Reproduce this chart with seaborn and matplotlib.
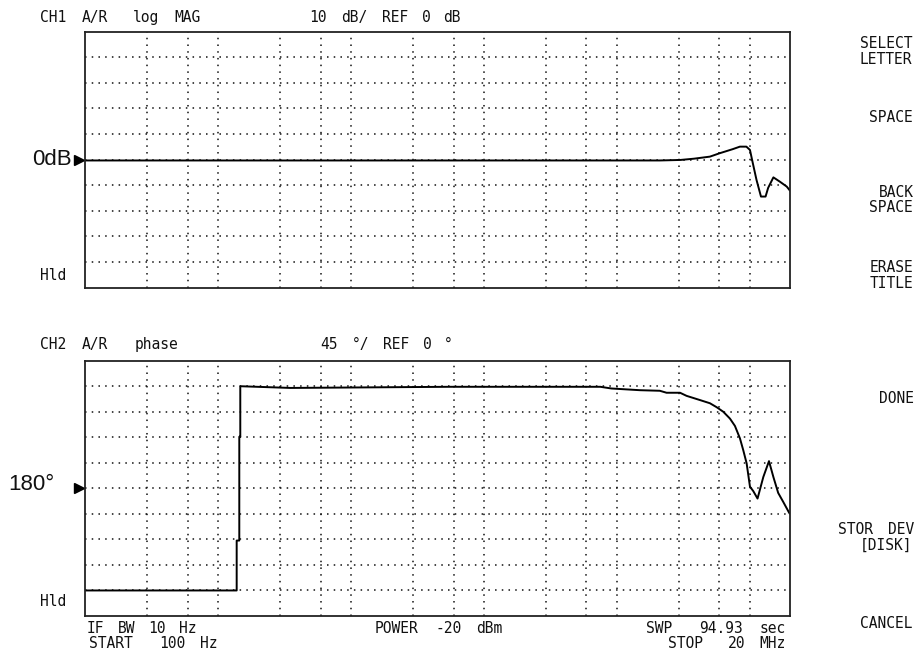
# Network analyzer screen: CH1 log MAG and CH2 phase

import seaborn as sns
import matplotlib.pyplot as plt
from matplotlib.transforms import blended_transform_factory

# CH1 A/R log MAG, dB vs Hz
mag_freq = [100, 2.1e6, 3.0e6, 3.8e6, 5.0e6, 5.9e6, 7.4e6, 8.4e6, 9.4e6, 10.0e6,
            10.5e6, 11.2e6, 12.1e6, 13.1e6, 13.7e6, 15.0e6, 16.8e6, 18.9e6, 20e6]
mag_db = [-0.3, -0.3, -0.1, 0.4, 1.2, 2.5, 4.1, 5.1, 5.1, 3.8,
          -1.3, -7.9, -14.4, -14.4, -11.0, -6.9, -8.6, -10.5, -12.1]

# CH2 A/R phase, degrees vs Hz
phase_freq = [100, 1382, 1382, 1446, 1446, 1471, 1471, 3.5e3, 5.5e4, 7.5e5,
              9.1e5, 1.49e6, 2.1e6, 2.36e6, 2.98e6, 3.34e6, 4.21e6, 5.0e6, 5.62e6,
              6.3e6, 7.07e6, 7.71e6, 8.41e6, 8.91e6, 9.44e6, 10.0e6, 10.6e6, 11.4e6,
              12.6e6, 13.9e6, 15.0e6, 16.3e6, 17.8e6, 19.7e6, 20e6]
phase_deg = [0, 0, 88, 88, 271, 271, 360, 357, 359, 359,
             356, 353, 352, 348.5, 348.5, 343, 335.6, 330, 323,
             315, 303, 290, 268, 247, 224, 183, 175, 162,
             200, 228, 200, 172, 156, 137, 135]

# graticule
grid_decades = [100, 1e3, 1e4, 1e5, 1e6]
grid_mult = [2.95, 5.9, 10]
mag_grid = [-40, -30, -20, -10, 0, 10, 20, 30, 40]
phase_grid = [0, 45, 90, 135, 180, 225, 270, 315, 360]

softkeys = [("SELECT", 48.5), ("LETTER", 63.5), ("SPACE", 122), ("BACK", 196.5),
            ("SPACE", 211.5), ("ERASE", 272.5), ("TITLE", 287.5), ("DONE", 403),
            ("STOR DEV", 534.5), ("[DISK]", 549.5), ("CANCEL", 628)]

W, H = 921, 655
PITCH = 10.3
MONO = 'DejaVu Sans Mono'


def box(l, t, r, b):
    return [l / W, 1 - b / H, (r - l) / W, (b - t) / H]


def hp_text(fig, x, y, s, align='left'):
    # instrument font is fixed pitch, so lay words out on a character grid
    if align == 'right':
        x = x - len(s) * PITCH
    pos = 0
    for word in s.split(' '):
        if word:
            cx = x + (pos + len(word) / 2) * PITCH
            fig.text(cx / W, 1 - y / H, word, ha='center', va='baseline',
                     family=MONO, fontsize=10.5, color='#111111')
        pos += len(word) + 1


def setup_axes(ax, ylim, yticks):
    ax.set_xscale('log')
    ax.set_xlim(100, 20e6)
    ax.set_ylim(*ylim)
    ax.set_xticks([d * m for d in grid_decades for m in grid_mult])
    ax.set_yticks(yticks)
    ax.minorticks_off()
    ax.tick_params(length=0, labelbottom=False, labelleft=False)
    ax.grid(True, color='#111111', linestyle=(0, (1, 3.4)), linewidth=1.1)
    for s in ax.spines.values():
        s.set_color('#222222')
        s.set_linewidth(1.3)


def make_plot():
    sns.set_theme(style="white")
    fig = plt.figure(figsize=(9.21, 6.55), dpi=100)
    ax1 = fig.add_axes(box(85, 31.7, 790, 287.7))
    ax2 = fig.add_axes(box(85, 360.7, 790, 616))

    setup_axes(ax1, (-50, 50), mag_grid)
    setup_axes(ax2, (-45, 405), phase_grid)

    sns.lineplot(x=mag_freq, y=mag_db, ax=ax1, color='black', linewidth=1.4,
                 estimator=None, sort=False)
    sns.lineplot(x=phase_freq, y=phase_deg, ax=ax2, color='black', linewidth=1.4,
                 estimator=None, sort=False)
    for ax in (ax1, ax2):
        ax.set_xlabel('')
        ax.set_ylabel('')

    # reference markers
    for ax, ref in ((ax1, 0), (ax2, 180)):
        tr = blended_transform_factory(ax.transAxes, ax.transData)
        ax.plot([-0.0092], [ref], marker='>', markersize=7.5, color='black',
                transform=tr, clip_on=False)

    fig.text(32 / W, 1 - 165 / H, "0dB", family='Liberation Sans', fontsize=16,
             ha='left', va='baseline', color='#111111')
    fig.text(8 / W, 1 - 490 / H, "180°", family='Liberation Sans', fontsize=16,
             ha='left', va='baseline', color='#111111')

    hp_text(fig, 38, 22, "CH1 A/R  log MAG")
    hp_text(fig, 308, 22, "10 dB/ REF 0 dB")
    hp_text(fig, 38, 349, "CH2 A/R  phase")
    hp_text(fig, 319, 349, "45 °/ REF 0 °")
    hp_text(fig, 38, 280, "Hld")
    hp_text(fig, 38, 606, "Hld")

    hp_text(fig, 85, 633, "IF BW 10 Hz")
    hp_text(fig, 85, 648, "START  100 Hz")
    hp_text(fig, 371, 633, "POWER -20 dBm")
    hp_text(fig, 788, 633, "SWP  94.93 sec", align='right')
    hp_text(fig, 788, 648, "STOP  20 MHz", align='right')

    for label, y in softkeys:
        hp_text(fig, 917, y, label, align='right')

    fig.savefig('out.png', dpi=100, facecolor='white')


if __name__ == '__main__':
    make_plot()
